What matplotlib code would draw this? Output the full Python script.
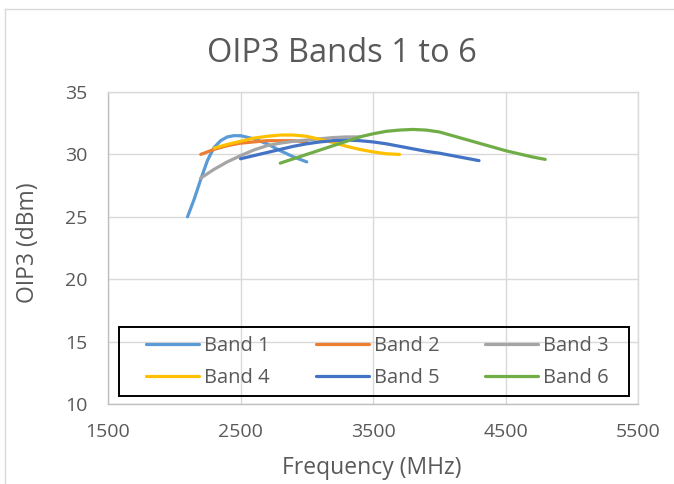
import matplotlib.pyplot as plt
from matplotlib.lines import Line2D
from matplotlib.patches import Rectangle

# OIP3 (dBm) vs frequency (MHz)
band1_f = [2100, 2150, 2200, 2250, 2300, 2350, 2400, 2450, 2500, 2600, 2700, 2800, 2900, 3000]
band1_v = [25.0, 26.4, 28.0, 29.5, 30.55, 31.1, 31.4, 31.5, 31.5, 31.25, 30.85, 30.3, 29.8, 29.4]

band2_f = [2200, 2300, 2400, 2500, 2600, 2700, 2800, 2900, 3000]
band2_v = [30.0, 30.4, 30.7, 30.9, 31.0, 31.1, 31.1, 31.1, 31.0]

band3_f = [2200, 2300, 2400, 2500, 2600, 2700, 2800, 2900, 3000, 3100, 3200, 3300, 3400]
band3_v = [28.1, 28.8, 29.4, 29.9, 30.35, 30.7, 30.9, 31.05, 31.15, 31.25, 31.35, 31.4, 31.4]

band4_f = [2300, 2400, 2500, 2600, 2700, 2800, 2900, 3000, 3100, 3200, 3300, 3400, 3500, 3600, 3700]
band4_v = [30.5, 30.8, 31.05, 31.3, 31.45, 31.55, 31.55, 31.45, 31.2, 30.95, 30.65, 30.4, 30.2, 30.05, 30.0]

band5_f = [2500, 2600, 2700, 2800, 2900, 3000, 3100, 3200, 3300, 3400, 3500, 3600,
           3700, 3800, 3900, 4000, 4100, 4200, 4300]
band5_v = [29.65, 29.9, 30.15, 30.4, 30.65, 30.85, 31.0, 31.1, 31.15, 31.1, 31.0, 30.85,
           30.65, 30.45, 30.25, 30.1, 29.9, 29.7, 29.5]

band6_f = [2800, 2900, 3000, 3100, 3200, 3300, 3400, 3500, 3600, 3700, 3800, 3900,
           4000, 4100, 4200, 4300, 4400, 4500, 4600, 4700, 4800]
band6_v = [29.3, 29.65, 30.0, 30.35, 30.7, 31.05, 31.4, 31.65, 31.85, 31.95, 32.0, 31.95,
           31.8, 31.5, 31.2, 30.9, 30.6, 30.3, 30.05, 29.8, 29.6]

labels = ['Band 1', 'Band 2', 'Band 3', 'Band 4', 'Band 5', 'Band 6']
colors = ['#5B9BD5', '#ED7D31', '#A5A5A5', '#FFC000', '#4472C4', '#70AD47']
x_ticks = [1500, 2500, 3500, 4500, 5500]
y_ticks = [10, 15, 20, 25, 30, 35]

series = [(band1_f, band1_v), (band2_f, band2_v), (band3_f, band3_v),
          (band4_f, band4_v), (band5_f, band5_v), (band6_f, band6_v)]

plt.rcParams['font.family'] = ['Open Sans', 'DejaVu Sans']
text_col = '#595959'
grid_col = '#D9D9D9'

W, H = 674, 484
fig = plt.figure(figsize=(W / 100, H / 100), dpi=100)
ax = fig.add_axes([108 / W, 1 - 404 / H, 530 / W, 312 / H])

handles = []
for (f, v), lab, col in zip(series, labels, colors):
    ln, = ax.plot(f, v, color=col, lw=2.3, label=lab, solid_capstyle='round', solid_joinstyle='round')
    handles.append(ln)

ax.set_xlim(1500, 5500)
ax.set_ylim(10, 35)
ax.set_xticks(x_ticks)
ax.set_yticks(y_ticks)
ax.grid(True, color=grid_col, lw=1.0)
ax.set_axisbelow(True)
ax.tick_params(length=0, labelsize=14, labelcolor=text_col)
ax.tick_params(axis='x', pad=14)
ax.tick_params(axis='y', pad=15)
for s in ax.spines.values():
    s.set_color(grid_col)
    s.set_linewidth(1.0)
ax.spines['left'].set_color('#BFBFBF')
ax.spines['bottom'].set_color('#BFBFBF')

fig.text(372 / W, 1 - 468 / H, 'Frequency (MHz)', ha='center', va='center',
         fontsize=16.5, color=text_col)
fig.text(28 / W, 1 - 243 / H, 'OIP3 (dBm)', ha='center', va='center', rotation=90,
         fontsize=16.5, color=text_col)
fig.text(342 / W, 1 - 53 / H, 'OIP3 Bands 1 to 6', ha='center', va='center',
         fontsize=23.5, color=text_col)

# legend: entries row by row, framed by a separate black box
order = [0, 3, 1, 4, 2, 5]
cx0, cx1 = 146, 609
leg = fig.legend([handles[i] for i in order], [labels[i] for i in order],
                 loc='center', ncol=3, mode='expand',
                 bbox_to_anchor=(cx0 / W, 1 - 371.6 / H, (cx1 - cx0) / W, 20 / H),
                 fontsize=14.5, frameon=False, handlelength=2.64, handletextpad=0.25,
                 borderaxespad=0, borderpad=0, labelspacing=0.6, labelcolor=text_col)
fig.add_artist(Rectangle((119 / W, 1 - 396 / H), 510 / W, 69 / H, transform=fig.transFigure,
                         fill=False, edgecolor='black', lw=1.4))

# light chart border (top and left edges visible)
fig.add_artist(Line2D([5 / W, 1], [1 - 9 / H, 1 - 9 / H], color='#D9D9D9', lw=1.0))
fig.add_artist(Line2D([5 / W, 5 / W], [0, 1 - 9 / H], color='#D9D9D9', lw=1.0))

fig.savefig('out.png', dpi=100)
